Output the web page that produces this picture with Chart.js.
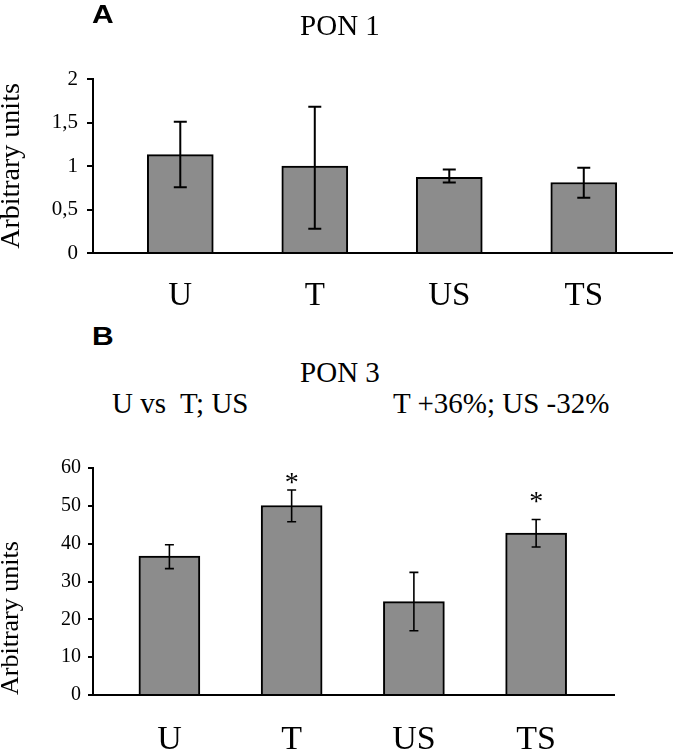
<!DOCTYPE html>
<html lang="en">
<head>
<meta charset="UTF-8">
<title>PON 1 / PON 3</title>
<script src="https://cdn.jsdelivr.net/npm/chart.js"></script>
<style>
  body { margin: 0; background: #fff; }
  #page { position: relative; width: 674px; height: 750px; overflow: hidden; }
  .box { position: absolute; left: 0; width: 674px; height: 310px; }
  .lbl { position: absolute; line-height: 1; white-space: pre; color: #000; }
  .panel { font-family: 'Liberation Sans', Arial, sans-serif; font-weight: bold; font-size: 25px;
           transform: scaleX(1.2); transform-origin: left top; }
  .serif { font-family: 'Liberation Serif', 'Times New Roman', serif; font-size: 29px; }
</style>
</head>
<body>
<div id="page">
  <div class="box" style="top:0"><canvas id="chartA"></canvas></div>
  <div class="box" style="top:440px"><canvas id="chartB"></canvas></div>

  <div class="lbl panel" style="left:92px;top:2px">A</div>
  <div class="lbl serif" style="left:3px;width:674px;text-align:center;top:11px">PON 1</div>
  <div class="lbl panel" style="left:92px;top:324px">B</div>
  <div class="lbl serif" style="left:3px;width:674px;text-align:center;top:358px">PON 3</div>
  <div class="lbl serif" style="left:112px;top:389px">U vs  T; US</div>
  <div class="lbl serif" style="left:393px;top:389px">T +36%; US -32%</div>
</div>

<script>
  const categories = ['U', 'T', 'US', 'TS'];

  // PON 1
  const pon1Mean = [1.13, 1.0, 0.87, 0.81];
  const pon1Low  = [0.755, 0.28, 0.81, 0.635];
  const pon1High = [1.51, 1.68, 0.96, 0.98];
  const pon1Ticks = [0, 0.5, 1, 1.5, 2];

  // PON 3
  const pon3Mean = [36.7, 50.1, 24.7, 42.8];
  const pon3Low  = [33.4, 45.8, 17.0, 39.1];
  const pon3High = [39.7, 54.2, 32.4, 46.4];
  const pon3Ticks = [0, 10, 20, 30, 40, 50, 60];
  const pon3Stars = [null, 57.5, null, 52.5];   // where the * sits

  const serif = 'Liberation Serif';
  Chart.defaults.font.family = serif;

  // error bars + significance stars, drawn after the bars
  function errorBars(low, high, stars, lineWidth, cap) {
    return {
      id: 'errorBars',
      afterDatasetsDraw(chart) {
        const { ctx, scales: { x, y } } = chart;
        ctx.save();
        ctx.strokeStyle = '#000';
        ctx.lineWidth = lineWidth;
        low.forEach((lo, i) => {
          const px = x.getPixelForValue(i);
          const top = y.getPixelForValue(high[i]);
          const bot = y.getPixelForValue(lo);
          ctx.beginPath();
          ctx.moveTo(px, top); ctx.lineTo(px, bot);
          ctx.moveTo(px - cap, top); ctx.lineTo(px + cap, top);
          ctx.moveTo(px - cap, bot); ctx.lineTo(px + cap, bot);
          ctx.stroke();
        });
        ctx.fillStyle = '#000';
        ctx.font = '28px "' + serif + '"';
        ctx.textAlign = 'center';
        ctx.textBaseline = 'alphabetic';
        stars.forEach((s, i) => {
          if (s == null) return;
          ctx.fillText('*', x.getPixelForValue(i), y.getPixelForValue(s) + 0.47 * 28);
        });
        ctx.restore();
      }
    };
  }

  function makeChart(id, o) {
    return new Chart(document.getElementById(id), {
      type: 'bar',
      data: {
        datasets: [{
          data: categories.map((c, i) => ({ x: i, y: o.mean[i] })),
          backgroundColor: '#8c8c8c',
          borderColor: '#000',
          borderWidth: o.barBorder,
          barThickness: o.barWidth
        }]
      },
      options: {
        responsive: true,
        maintainAspectRatio: false,
        animation: false,
        layout: { padding: o.padding },
        plugins: { legend: { display: false }, tooltip: { enabled: false } },
        scales: {
          x: {
            type: 'linear',
            offset: false,
            min: o.xMin, max: o.xMax,
            afterBuildTicks: s => { s.ticks = categories.map((c, i) => ({ value: i })); },
            afterFit: s => { s.height = o.xHeight; },
            grid: { display: false, offset: false },
            border: { display: true, color: '#000', width: 2 },
            ticks: {
              callback: v => categories[v],
              font: { family: serif, size: o.xFont },
              color: '#000', padding: o.xPad, maxRotation: 0, autoSkip: false
            }
          },
          y: {
            min: o.ticks[0], max: o.ticks[o.ticks.length - 1],
            afterBuildTicks: s => { s.ticks = o.ticks.map(v => ({ value: v })); },
            afterFit: s => { s.width = 93; },
            grid: { drawOnChartArea: false, drawTicks: true, tickLength: o.tickLen, color: '#000', lineWidth: 2 },
            border: { color: '#000', width: 2 },
            ticks: {
              callback: v => String(v).replace('.', ','),
              font: { family: serif, size: o.yFont },
              color: '#000', padding: o.yPad
            },
            title: {
              display: true, text: 'Arbitrary units', align: o.titleAlign,
              font: { family: serif, size: o.titleFont, lineHeight: 0.85 }, color: '#000', padding: 0
            }
          }
        }
      },
      plugins: [errorBars(o.low, o.high, o.stars, o.errWidth, o.cap)]
    });
  }

  makeChart('chartA', {
    mean: pon1Mean, low: pon1Low, high: pon1High, stars: [], ticks: pon1Ticks,
    xMin: -0.649, xMax: 3.656, barWidth: 66, barBorder: 2, errWidth: 2, cap: 6.5,
    padding: { top: 79, right: 2, left: 0, bottom: 0 }, xHeight: 57, xFont: 33, xPad: 16,
    tickLen: 6, yPad: 9, yFont: 21, titleAlign: 'center', titleFont: 28
  });

  makeChart('chartB', {
    mean: pon3Mean, low: pon3Low, high: pon3High, stars: pon3Stars, ticks: pon3Ticks,
    xMin: -0.625, xMax: 3.637, barWidth: 61, barBorder: 2, errWidth: 1.6, cap: 4.5,
    padding: { top: 28, right: 60, left: 0, bottom: 0 }, xHeight: 55, xFont: 34, xPad: 17,
    tickLen: 5, yPad: 7, yFont: 20, titleAlign: 'start', titleFont: 26
  });
</script>
</body>
</html>
